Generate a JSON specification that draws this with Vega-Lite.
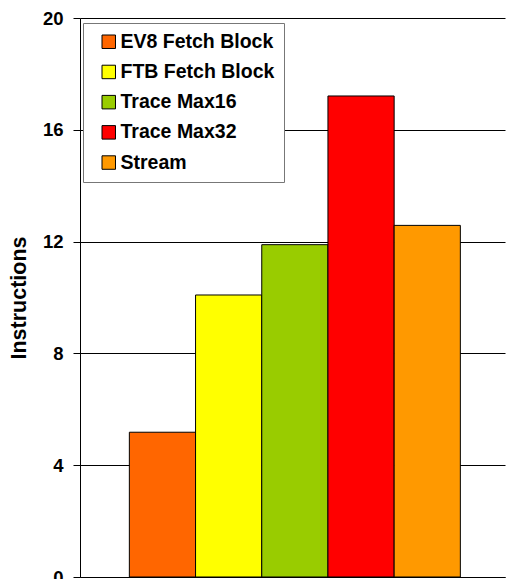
{
  "$schema": "https://vega.github.io/schema/vega-lite/v6.json",
  "width": 425,
  "height": 559,
  "autosize": {"type": "none"},
  "padding": {"left": 80, "top": 18, "right": 1, "bottom": 2},
  "background": "white",
  "config": {
    "view": {"stroke": null},
    "font": "Liberation Sans"
  },
  "data": {
    "values": [
      {"series": "EV8 Fetch Block", "instructions": 5.18},
      {"series": "FTB Fetch Block", "instructions": 10.09},
      {"series": "Trace Max16", "instructions": 11.89},
      {"series": "Trace Max32", "instructions": 17.21},
      {"series": "Stream", "instructions": 12.58}
    ]
  },
  "mark": {"type": "bar", "stroke": "black", "strokeWidth": 1},
  "encoding": {
    "x": {
      "field": "series",
      "type": "nominal",
      "sort": null,
      "scale": {"paddingInner": 0, "paddingOuter": 0.71, "align": 0.525},
      "axis": {
        "title": null,
        "labels": false,
        "ticks": false,
        "domainColor": "black",
        "domainWidth": 1
      }
    },
    "y": {
      "field": "instructions",
      "type": "quantitative",
      "scale": {"domain": [0, 20], "nice": false},
      "axis": {
        "values": [0, 4, 8, 12, 16, 20],
        "title": "Instructions",
        "titleFont": "Liberation Sans",
        "titleFontSize": 21.5,
        "titleFontWeight": "bold",
        "titleColor": "black",
        "titlePadding": 12,
        "labelFont": "Liberation Sans",
        "labelFontSize": 18.5,
        "labelFontWeight": "bold",
        "labelColor": "black",
        "labelPadding": 10,
        "tickSize": 7,
        "tickColor": "black",
        "domainColor": "black",
        "grid": true,
        "gridColor": "black",
        "gridWidth": 1,
        "gridOpacity": 1
      }
    },
    "color": {
      "field": "series",
      "type": "nominal",
      "sort": null,
      "scale": {
        "domain": ["EV8 Fetch Block", "FTB Fetch Block", "Trace Max16", "Trace Max32", "Stream"],
        "range": ["#FF6600", "#FFFF00", "#99CC00", "#FF0000", "#FF9900"]
      },
      "legend": {
        "title": null,
        "orient": "none",
        "legendX": 3,
        "legendY": 5,
        "direction": "vertical",
        "symbolType": "square",
        "symbolSize": 182,
        "symbolStrokeColor": "black",
        "symbolStrokeWidth": 1,
        "symbolOpacity": 1,
        "symbolOffset": 7,
        "labelFont": "Liberation Sans",
        "labelFontSize": 19.5,
        "labelFontWeight": "bold",
        "labelColor": "black",
        "labelOffset": 2,
        "rowPadding": 9.2,
        "padding": 9,
        "strokeColor": "#777777",
        "fillColor": "white",
        "cornerRadius": 0
      }
    }
  }
}
